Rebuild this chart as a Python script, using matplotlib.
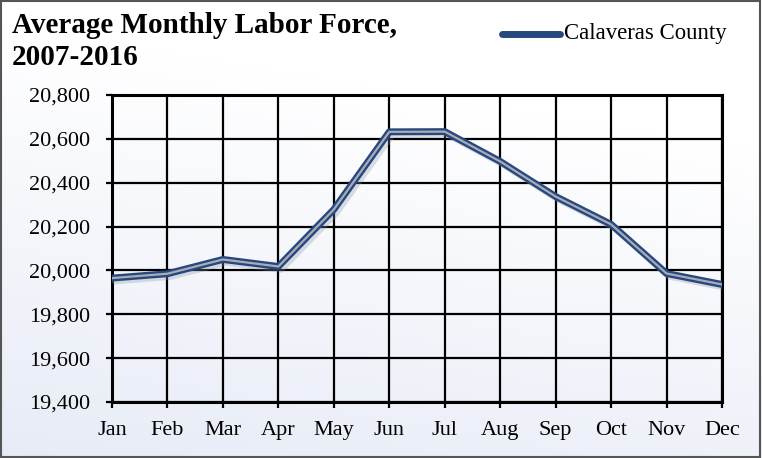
import matplotlib
matplotlib.use("Agg")
import matplotlib.pyplot as plt
import numpy as np
from matplotlib.patches import Rectangle
import matplotlib.patheffects as pe
import matplotlib.transforms as mtransforms

months = ["Jan", "Feb", "Mar", "Apr", "May", "Jun", "Jul", "Aug", "Sep", "Oct", "Nov", "Dec"]
labor_force = [19965, 19985, 20050, 20018, 20278, 20632, 20633, 20497, 20337, 20210, 19986, 19936]
yticks = [19400, 19600, 19800, 20000, 20200, 20400, 20600, 20800]
title_lines = ["Average Monthly Labor Force,", "2007-2016"]
series_name = "Calaveras County"

plt.rcParams['font.family'] = ['Liberation Serif', 'DejaVu Serif']

fig = plt.figure(figsize=(7.62, 4.58), dpi=100)

# background gradient (white at top, light blue-grey toward bottom)
bg = fig.add_axes([0, 0, 1, 1], zorder=-10)
yy, xx = np.mgrid[0:1:200j, 0:1:200j]
t = np.clip((1 - yy) * 0.9 + (1 - xx) * 0.25 - 0.3, 0, 1)
top = np.array([1.0, 1.0, 1.0])
bot = np.array([0.89, 0.91, 0.96])
img = top[None, None, :] * (1 - t[..., None]) + bot[None, None, :] * t[..., None]
bg.imshow(img, aspect='auto', extent=[0, 1, 0, 1], origin='lower')
bg.set_axis_off()

ax = fig.add_axes([112/762, 1-402/458, (722-112)/762, (402-95)/458])
ax.patch.set_alpha(0)
x = np.arange(len(months))
ax.plot(x, labor_force, color='#26487f', lw=5.0, solid_capstyle='round', solid_joinstyle='round',
        zorder=5, path_effects=[pe.SimpleLineShadow(offset=(2, -2), shadow_color='#8a93a8', alpha=0.3),
                                pe.Normal()])
ax.plot(x, labor_force, color='#a8acb4', lw=1.6, zorder=6, solid_joinstyle='round')

ax.set_xlim(0, len(months) - 1)
ax.set_ylim(19400, 20800)
ax.set_yticks(yticks)
ax.set_yticklabels([f"{v:,}" for v in yticks])
ax.set_xticks(x)
ax.set_xticklabels([])
ax.grid(True, color='black', lw=1.6)
ax.set_axisbelow(True)
for s in ax.spines.values():
    s.set_color('black')
    s.set_linewidth(2.2)
ax.tick_params(axis='both', labelsize=16, length=4.5, width=1.6, color='black')
ax.tick_params(axis='y', pad=11)

# x labels with a common baseline
trans = mtransforms.blended_transform_factory(ax.transData, ax.transAxes)
for i, m in enumerate(months):
    ax.text(i, (402 - 435) / 307, m, transform=trans, ha='center', va='baseline', fontsize=16)

fig.text(12/762, 1-33/458, title_lines[0], fontsize=21, fontweight='bold', va='baseline', ha='left')
fig.text(12/762, 1-65/458, title_lines[1], fontsize=21, fontweight='bold', va='baseline', ha='left')

# legend
fig.lines.append(plt.Line2D([502/762, 560/762], [1-34/458, 1-34/458], transform=fig.transFigure,
                            color='#26487f', lw=5, solid_capstyle='round'))
fig.text(564/762, 1-34/458, series_name, fontsize=16.4, va='center', ha='left')

fig.patches.append(Rectangle((0.001, 0.002), 0.997, 0.996, transform=fig.transFigure,
                             fill=False, edgecolor='#555555', lw=1.5))

fig.savefig("out.png", dpi=100)
